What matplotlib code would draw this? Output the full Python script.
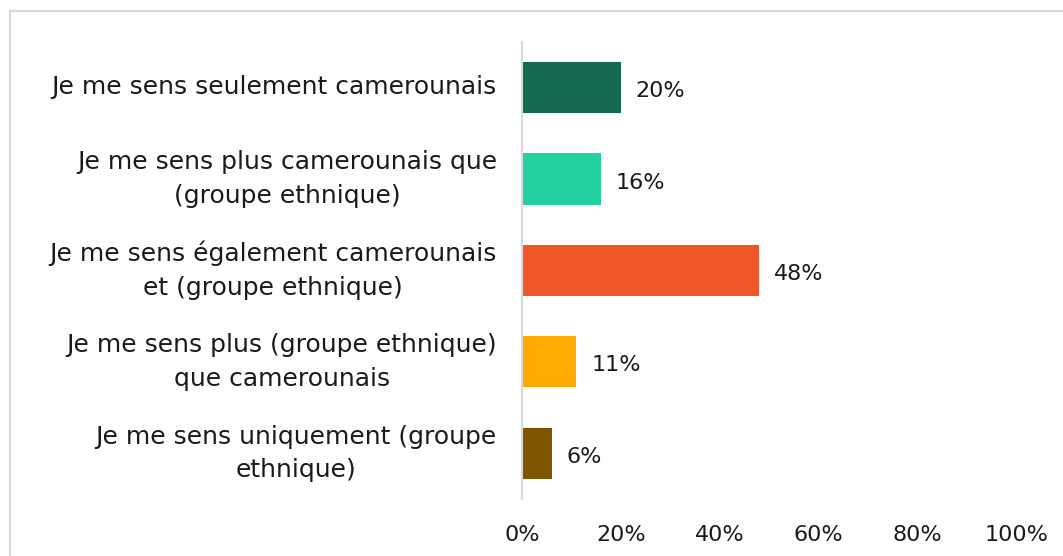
import matplotlib.pyplot as plt
import matplotlib.patches as patches

categories = [
    "Je me sens seulement camerounais",
    "Je me sens plus camerounais que\n(groupe ethnique)",
    "Je me sens également camerounais\net (groupe ethnique)",
    "Je me sens plus (groupe ethnique)\nque camerounais",
    "Je me sens uniquement (groupe\nethnique)",
]
values = [20, 16, 48, 11, 6]
colors = ["#156B52", "#23D1A0", "#F0582A", "#FFAA00", "#7F5500"]
ticks = [0, 20, 40, 60, 80, 100]

plt.rcParams['font.family'] = ['DejaVu Sans']

fig = plt.figure(figsize=(10.63, 5.56), dpi=100)
ax = fig.add_axes([0.491, 0.1025, 0.465, 0.8225])

y = list(range(len(categories)))
ax.barh(y, values, height=0.56, color=colors)
ax.set_ylim(len(categories) - 0.5, -0.5)
ax.set_xlim(0, 100)

for i, v in enumerate(values):
    ax.text(v + 3, i + 0.04, f"{v}%", va="center", ha="left", fontsize=16, color="#1a1a1a")

ax.set_yticks(y)
ax.set_yticklabels(categories, fontsize=18, color="#1a1a1a",
                   multialignment="center", linespacing=1.5, va="center")
ax.set_xticks(ticks)
ax.set_xticklabels([f"{t}%" for t in ticks], fontsize=16, color="#1a1a1a")
ax.tick_params(axis="both", length=0)
ax.tick_params(axis="y", pad=18)
ax.tick_params(axis="x", pad=19)

for s in ["top", "right", "bottom"]:
    ax.spines[s].set_visible(False)
ax.spines["left"].set_color("#D9D9D9")
ax.spines["left"].set_linewidth(1.5)

# light frame around the chart area (cut by the image edge right and bottom)
frame = patches.Rectangle((10 / 1063, -0.2), 1.2, 1.2 - 11 / 556,
                          transform=fig.transFigure, fill=False,
                          edgecolor="#D9D9D9", linewidth=1.5)
fig.patches.append(frame)

fig.savefig("out.png", dpi=100)
